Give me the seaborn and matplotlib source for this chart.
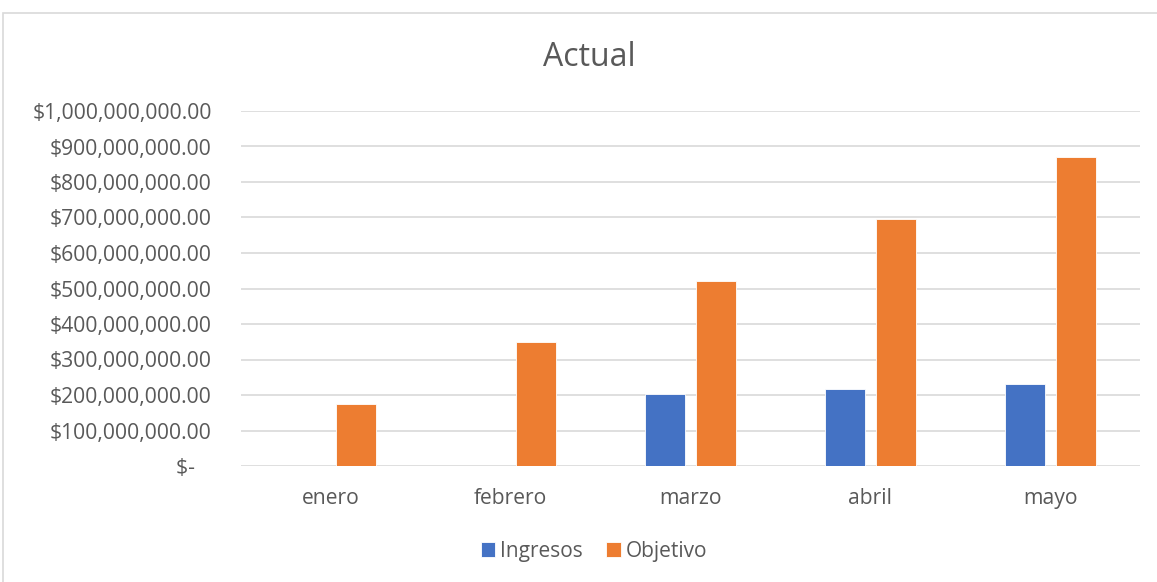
import pandas as pd
import matplotlib.pyplot as plt
import matplotlib.ticker as mticker
from matplotlib.patches import Rectangle
import seaborn as sns

# data
meses = ["enero", "febrero", "marzo", "abril", "mayo"]
ingresos = [0, 0, 204_000_000, 216_000_000, 232_000_000]
objetivo = [174_000_000, 348_000_000, 522_000_000, 696_000_000, 870_000_000]

df = pd.DataFrame({
    "mes": meses * 2,
    "serie": ["Ingresos"] * len(meses) + ["Objetivo"] * len(meses),
    "valor": ingresos + objetivo,
})

sns.set_theme(style="white")
plt.rcParams["font.family"] = ["Open Sans", "DejaVu Sans"]

fig = plt.figure(figsize=(11.57, 5.82), dpi=100)
ax = fig.add_axes([241 / 1157, 1 - 466 / 582, 899 / 1157, 355 / 582])

sns.barplot(data=df, x="mes", y="valor", hue="serie", order=meses,
            palette={"Ingresos": "#4472c4", "Objetivo": "#ed7d31"},
            saturation=1, width=0.567, gap=0.215,
            edgecolor="white", linewidth=0.6, ax=ax, legend=True)

ax.set_ylim(0, 1_000_000_000)
ax.set_xlim(-0.5, len(meses) - 0.5)
ax.yaxis.set_major_locator(mticker.MultipleLocator(100_000_000))


def money(v, pos):
    if v == 0:
        return "$-   "
    return "${:,.2f}".format(v)


ax.yaxis.set_major_formatter(mticker.FuncFormatter(money))
ax.yaxis.grid(True, color="#d9d9d9", linewidth=1.2)
ax.set_axisbelow(True)
for s in ax.spines.values():
    s.set_visible(False)
ax.tick_params(axis="both", length=0, labelsize=15.2, colors="#595959")
ax.tick_params(axis="y", pad=21)
ax.tick_params(axis="x", pad=16)
ax.set_xlabel("")
ax.set_ylabel("")

fig.text(589 / 1157, 1 - 58 / 582, "Actual", ha="center", va="center",
         fontsize=23, color="#595959")

handles, labels = ax.get_legend_handles_labels()
ax.legend_.remove()
fig.legend(handles, labels, loc="center", bbox_to_anchor=(594 / 1157, 1 - 551 / 582),
           ncol=2, frameon=False, fontsize=15, labelcolor="#595959",
           handlelength=0.7, handleheight=0.7, handletextpad=0.25, columnspacing=1.1)

fig.patches.append(Rectangle((3 / 1157, -0.1), 1.2, 1 - 13 / 582 + 0.1,
                             transform=fig.transFigure, fill=False,
                             edgecolor="#d9d9d9", linewidth=1.2, zorder=0))

fig.savefig("out.png", dpi=100, facecolor="white")
